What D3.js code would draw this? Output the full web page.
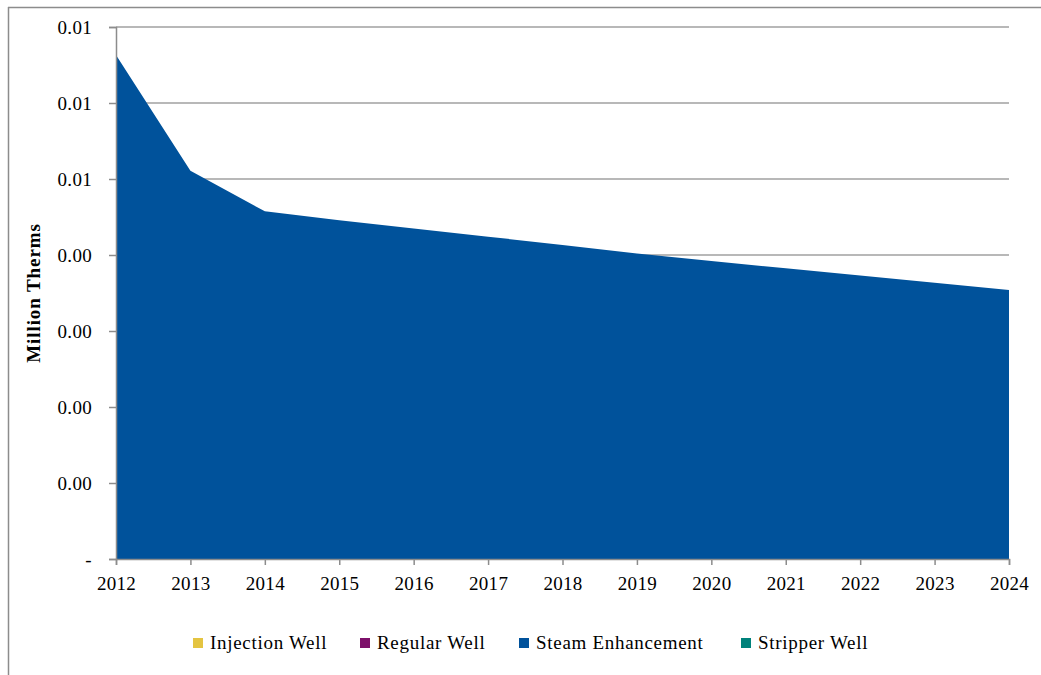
<!DOCTYPE html>
<html>
<head>
<meta charset="utf-8">
<script src="https://cdn.jsdelivr.net/npm/d3@7"></script>
<style>
  html, body { margin: 0; padding: 0; background: #fff; }
  svg { display: block; }
  text { font-family: "Liberation Serif", "Times New Roman", serif; fill: #000; }
</style>
</head>
<body>
<svg id="chart" width="1041" height="675"></svg>
<script>
const years = [2012, 2013, 2014, 2015, 2016, 2017, 2018, 2019, 2020, 2021, 2022, 2023, 2024];
const seriesNames = ["Injection Well", "Regular Well", "Steam Enhancement", "Stripper Well"];
const seriesColors = ["#E4C441", "#7D106A", "#00529B", "#00827B"];
const injectionWell = [0, 0, 0, 0, 0, 0, 0, 0, 0, 0, 0, 0, 0];
const regularWell = [0, 0, 0, 0, 0, 0, 0, 0, 0, 0, 0, 0, 0];
const steamEnhancement = [0.006632, 0.005109, 0.004575, 0.004457, 0.004349, 0.004241, 0.004133, 0.004020, 0.003921, 0.003825, 0.003730, 0.003634, 0.003539];
const stripperWell = [0, 0, 0, 0, 0, 0, 0, 0, 0, 0, 0, 0, 0];
const yTicks = [0, 0.001, 0.002, 0.003, 0.004, 0.005, 0.006, 0.007];
const yTickLabels = ["-", "0.00", "0.00", "0.00", "0.00", "0.01", "0.01", "0.01"];
const yTitle = "Million Therms";

const svg = d3.select("#chart");
const W = 1041, H = 675;
const plot = { left: 116, right: 1009, top: 27, bottom: 559 };

// outer frame (top and left edges visible)
svg.append("line").attr("x1", 8).attr("x2", W).attr("y1", 7.5).attr("y2", 7.5)
  .attr("stroke", "#8c8c8c").attr("stroke-width", 1.5);
svg.append("line").attr("x1", 8.5).attr("x2", 8.5).attr("y1", 7).attr("y2", H)
  .attr("stroke", "#8c8c8c").attr("stroke-width", 1.5);

const x = d3.scalePoint().domain(years).range([plot.left, plot.right]);
const y = d3.scaleLinear().domain([0, 0.007]).range([plot.bottom, plot.top]);

const table = years.map((yr, i) => ({
  year: yr,
  "Injection Well": injectionWell[i],
  "Regular Well": regularWell[i],
  "Steam Enhancement": steamEnhancement[i],
  "Stripper Well": stripperWell[i]
}));
const stack = d3.stack().keys(seriesNames)(table);

// gridlines
svg.append("g").selectAll("line").data(yTicks.filter(d => d > 0)).join("line")
  .attr("x1", plot.left).attr("x2", plot.right)
  .attr("y1", d => y(d)).attr("y2", d => y(d))
  .attr("stroke", "#a0a0a0").attr("stroke-width", 1.5);

const area = d3.area()
  .x(d => x(d.data.year))
  .y0(d => y(d[0]))
  .y1(d => y(d[1]));

svg.append("g").selectAll("path").data(stack).join("path")
  .attr("d", area)
  .attr("fill", (d, i) => seriesColors[i]);

// y axis
const yAxis = d3.axisLeft(y).tickValues(yTicks)
  .tickFormat((d, i) => yTickLabels[i]).tickSize(7).tickPadding(17);
const gy = svg.append("g").attr("transform", `translate(${plot.left},0)`).call(yAxis);
gy.select(".domain").attr("stroke", "#8c8c8c").attr("stroke-width", 1.5);
gy.selectAll(".tick line").attr("stroke", "#8c8c8c").attr("stroke-width", 1.5);
gy.selectAll(".tick text").style("font-size", "19px").style("letter-spacing", "0.3px")
  .style("font-family", "'Liberation Serif', serif").attr("fill", "#000");

// x axis
const xAxis = d3.axisBottom(x).tickSize(6).tickPadding(12);
const gx = svg.append("g").attr("transform", `translate(0,${plot.bottom})`).call(xAxis);
gx.select(".domain").attr("stroke", "#8c8c8c").attr("stroke-width", 1.5);
gx.selectAll(".tick line").attr("stroke", "#8c8c8c").attr("stroke-width", 1.5);
gx.selectAll(".tick text").style("font-size", "19px").style("letter-spacing", "0.3px")
  .style("font-family", "'Liberation Serif', serif").attr("fill", "#000");

// y title
svg.append("text")
  .attr("transform", `translate(40,${(222 + 364) / 2}) rotate(-90)`)
  .attr("text-anchor", "middle")
  .style("font-size", "19px").style("font-weight", "bold").style("letter-spacing", "0.9px")
  .text(yTitle);

// legend
const legendX = [193, 360, 519, 741];
const lg = svg.append("g").selectAll("g").data(seriesNames).join("g")
  .attr("transform", (d, i) => `translate(${legendX[i]},638)`);
lg.append("rect").attr("width", 10).attr("height", 10).attr("fill", (d, i) => seriesColors[i]);
lg.append("text").attr("x", 17).attr("y", 11)
  .style("font-size", "19px").style("letter-spacing", "0.7px").text(d => d);
</script>
</body>
</html>
